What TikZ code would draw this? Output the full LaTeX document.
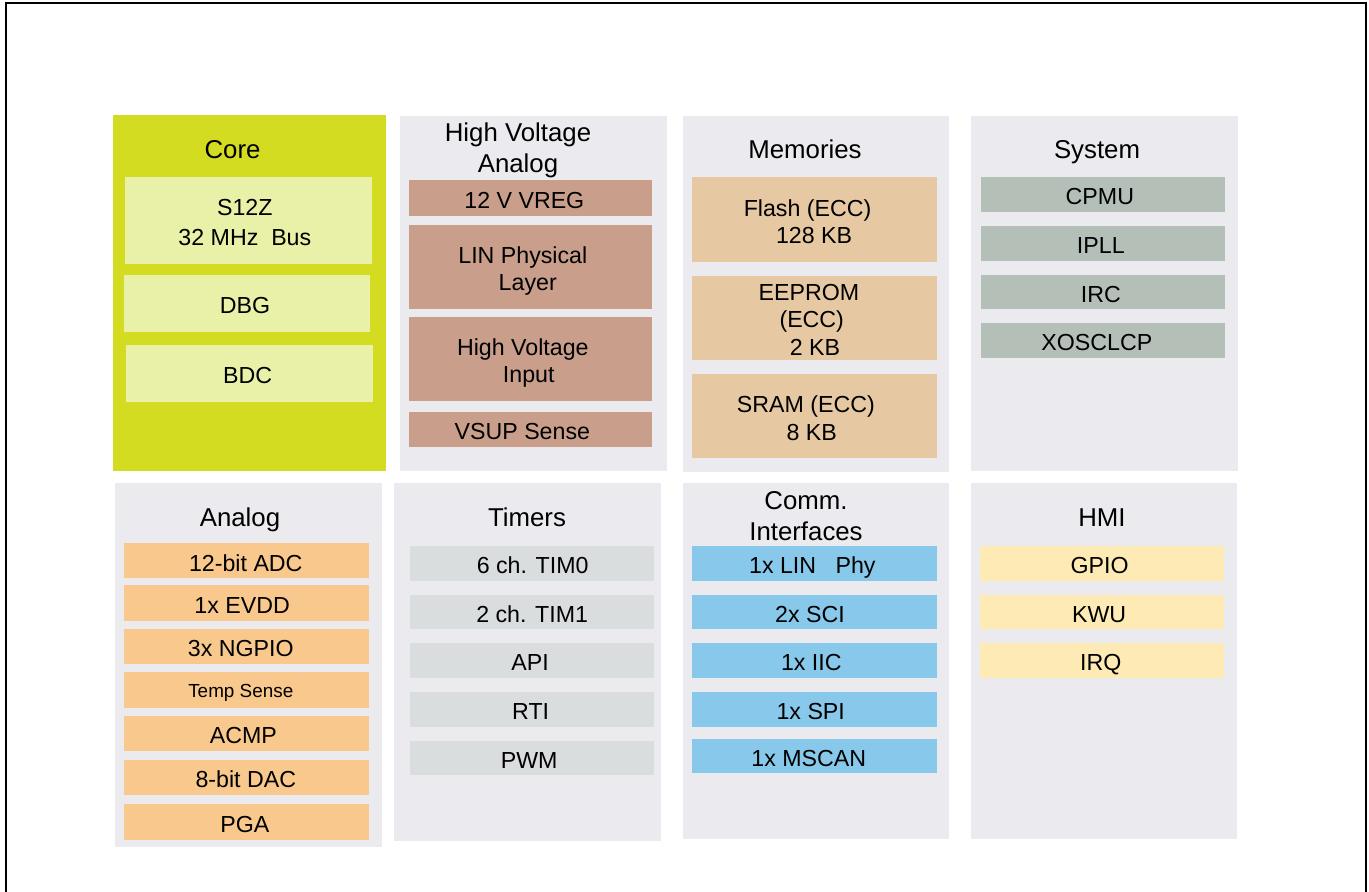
\documentclass[tikz,border=0pt]{standalone}
\usepackage{fontspec}
\setmainfont{Liberation Sans}
\definecolor{panelbg}{RGB}{235,234,239}
\definecolor{corec}{RGB}{212,220,34}
\definecolor{coreitem}{RGB}{233,240,168}
\definecolor{hvc}{RGB}{201,159,139}
\definecolor{memc}{RGB}{230,200,163}
\definecolor{sysc}{RGB}{180,191,184}
\definecolor{anac}{RGB}{248,200,140}
\definecolor{timc}{RGB}{217,221,222}
\definecolor{comc}{RGB}{136,200,234}
\definecolor{hmic}{RGB}{253,234,180}
% panel: name, x1, y1, x2, y2, colour
\newcommand\pnl[6]{\node[box=#6, minimum width={(#4-#2)*1pt}, minimum height={(#5-#3)*1pt}] (#1) at ({(#2+#4)/2},{(#3+#5)/2}) {};}
% item: name, x1, y1, x2, y2, colour, text options, text
\newcommand\blk[8]{\node[box=#6, minimum width={(#4-#2)*1pt}, minimum height={(#5-#3)*1pt}] (#1) at ({(#2+#4)/2},{(#3+#5)/2}) {};
  \node[#7] (#1-t) at (#1.center) {#8};}
\tikzset{
  box/.style={fill=#1, inner sep=0pt, outer sep=0pt, draw=none},
  itxt/.style={inner sep=0pt, outer sep=0pt, font=\fontsize{23.2}{27.5}\selectfont, text height=21pt, text depth=0.5pt},
  stxt/.style={inner sep=0pt, outer sep=0pt, font=\fontsize{18.9}{22}\selectfont, text height=15.5pt, text depth=0.5pt},
  mtxt/.style={inner sep=0pt, outer sep=0pt, font=\fontsize{23.2}{27.5}\selectfont, align=center, yshift=-2pt},
  title/.style={inner sep=0pt, outer sep=0pt, font=\fontsize{25.8}{30.5}\selectfont, align=center},
}
\begin{document}
\begin{tikzpicture}[x=1pt, y=-1pt]
\useasboundingbox (0,0) rectangle (1369,892);
\fill[white] (0,0) rectangle (1369,892);
% outer frame
\draw[line width=2.2pt, black] (6,900) -- (6,2.6) -- (1366.2,2.6) -- (1366.2,900);

% panels
\pnl{pCore}{113.3}{115}{386}{470.7}{corec}
\pnl{pHV}{400}{116}{666.7}{470.7}{panelbg}
\pnl{pMem}{682.7}{116}{949.3}{472}{panelbg}
\pnl{pSys}{971}{116}{1238}{470.7}{panelbg}
\pnl{pAna}{115}{483.3}{382.3}{847.3}{panelbg}
\pnl{pTim}{394.3}{483.3}{661}{840.7}{panelbg}
\pnl{pCom}{682.7}{483.3}{949.3}{839}{panelbg}
\pnl{pHMI}{970.7}{483.3}{1237.3}{839}{panelbg}

% titles
\node[title, anchor=base] (tCore) at (232.5,158.3) {Core};
\node[title] (tHV) at (518,150.5) {High Voltage\\Analog};
\node[title, anchor=base] (tMem) at (805,158.5) {Memories};
\node[title, anchor=base] (tSys) at (1097,158.5) {System};
\node[title, anchor=base] (tAna) at (240,526) {Analog};
\node[title, anchor=base] (tTim) at (527,526) {Timers};
\node[title] (tCom) at (806,516.2) {Comm.\\Interfaces};
\node[title, anchor=base] (tHMI) at (1102,526) {HMI};

% Core items
\blk{s12z}{125}{177.3}{371.7}{263.7}{coreitem}{mtxt, xshift=-3.5pt, yshift=-0.5pt}{S12Z\\[2.5pt]32 MHz\ \ Bus}
\blk{dbg}{124}{274.7}{370}{331.7}{coreitem}{itxt, xshift=-2pt}{DBG}
\blk{bdc}{126.3}{345}{373}{402.3}{coreitem}{itxt, xshift=-2pt}{BDC}

% High voltage analog items
\blk{vreg}{409}{180}{651.7}{216}{hvc}{itxt, xshift=-6pt}{12 V VREG}
\blk{linphys}{409}{225}{651.7}{309}{hvc}{mtxt, xshift=-7.5pt, yshift=-1.8pt}{LIN Physical\\\hspace*{9.8pt}Layer}
\blk{hvin}{409}{317.3}{651.7}{401}{hvc}{mtxt, xshift=-7.5pt, yshift=-1.8pt}{High Voltage\\\hspace*{11.8pt}Input}
\blk{vsup}{409}{411.7}{651.7}{446.7}{hvc}{itxt, xshift=-8pt}{VSUP Sense}

% Memories
\blk{flash}{692}{177.3}{936.7}{261.7}{memc}{mtxt, xshift=-6.8pt}{Flash (ECC)\\\hspace*{13pt}128 KB}
\blk{eeprom}{692}{275.7}{936.7}{360}{memc}{mtxt, xshift=-5.5pt}{EEPROM\\\hspace*{5.8pt}(ECC)\\\hspace*{12.4pt}2 KB}
\blk{sram}{692}{374}{936.7}{458.3}{memc}{mtxt, xshift=-8.5pt}{SRAM (ECC)\\\hspace*{11.8pt}8 KB}

% System
\blk{cpmu}{980.7}{177.3}{1225}{211.7}{sysc}{itxt, xshift=-3pt}{CPMU}
\blk{ipll}{980.7}{226}{1225}{260.7}{sysc}{itxt, xshift=-2pt}{IPLL}
\blk{irc}{980.7}{274.7}{1225}{309.3}{sysc}{itxt, xshift=-2pt}{IRC}
\blk{xosc}{980.7}{323.3}{1225}{358}{sysc}{itxt, xshift=-6pt}{XOSCLCP}

% Analog
\blk{adc}{124.3}{543.3}{369.3}{578.3}{anac}{itxt, xshift=-1pt}{12-bit ADC}
\blk{evdd}{124.3}{585.3}{369.3}{620.7}{anac}{itxt, xshift=-4.6pt}{1x EVDD}
\blk{ngpio}{124.3}{629}{369.3}{664.3}{anac}{itxt, xshift=-6pt}{3x NGPIO}
\blk{temp}{124.3}{672.3}{369.3}{708}{anac}{stxt, xshift=-6pt}{Temp Sense}
\blk{acmp}{124.3}{715.7}{369.3}{751}{anac}{itxt, xshift=-3.5pt}{ACMP}
\blk{dac}{124.3}{760}{369.3}{795.3}{anac}{itxt, xshift=-1pt}{8-bit DAC}
\blk{pga}{124.3}{804.3}{369.3}{840}{anac}{itxt, xshift=-2pt}{PGA}

% Timers
\blk{tim0}{410}{546}{654.3}{580.7}{timc}{itxt, xshift=0.5pt}{6 ch. TIM0}
\blk{tim1}{410}{595}{654.3}{629.3}{timc}{itxt}{2 ch. TIM1}
\blk{api}{410}{643.3}{654.3}{678}{timc}{itxt, xshift=-2pt}{API}
\blk{rti}{410}{692}{654.3}{726.7}{timc}{itxt, xshift=-1.5pt}{RTI}
\blk{pwm}{410}{740.7}{654.3}{775.3}{timc}{itxt, xshift=-3pt}{PWM}

% Comm. interfaces
\blk{linphy}{692}{546}{936.7}{580.7}{comc}{itxt, xshift=-2pt}{1x LIN\ \ \ Phy}
\blk{sci}{692}{595}{936.7}{629.3}{comc}{itxt, xshift=-4.3pt}{2x SCI}
\blk{iic}{692}{643.3}{936.7}{678}{comc}{itxt, xshift=-3pt}{1x IIC}
\blk{spi}{692}{692}{936.7}{726.7}{comc}{itxt, xshift=-3.6pt}{1x SPI}
\blk{mscan}{692}{738.7}{936.7}{773.3}{comc}{itxt, xshift=-5.6pt}{1x MSCAN}

% HMI
\blk{gpio}{980}{546}{1224.3}{580.7}{hmic}{itxt, xshift=-2.6pt}{GPIO}
\blk{kwu}{980}{595}{1224.3}{629.3}{hmic}{itxt, xshift=-3pt}{KWU}
\blk{irq}{980}{643.3}{1224.3}{678}{hmic}{itxt, xshift=-1.4pt}{IRQ}
\end{tikzpicture}
\end{document}
